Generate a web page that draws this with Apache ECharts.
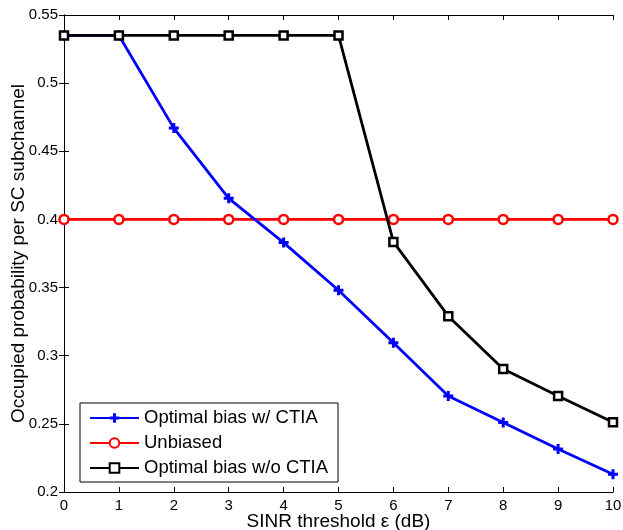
<!DOCTYPE html>
<html><head><meta charset="utf-8">
<script src="https://cdn.jsdelivr.net/npm/echarts@6/dist/echarts.min.js"></script>
<style>html,body{margin:0;padding:0;background:#fff}#c{width:623px;height:530px}</style>
</head><body><div id="c"></div>
<script>
const xValues = [0,1,2,3,4,5,6,7,8,9,10];
const withCTIA = [0.535,0.535,0.467,0.4155,0.383,0.348,0.3095,0.2705,0.251,0.2315,0.213];
const unbiased = [0.4,0.4,0.4,0.4,0.4,0.4,0.4,0.4,0.4,0.4,0.4];
const withoutCTIA = [0.535,0.535,0.535,0.535,0.535,0.535,0.3835,0.329,0.2902,0.2705,0.2512];
const seriesNames = ['Optimal bias w/ CTIA','Unbiased','Optimal bias w/o CTIA'];
const xTicks = ['0','1','2','3','4','5','6','7','8','9','10'];
const yTicks = ['0.2','0.25','0.3','0.35','0.4','0.45','0.5','0.55'];

const plus = 'path://M3.5,0 L6.5,0 L6.5,3.5 L10,3.5 L10,6.5 L6.5,6.5 L6.5,10 L3.5,10 L3.5,6.5 L0,6.5 L0,3.5 L3.5,3.5 Z';
const font = 'Liberation Sans, Arial, Helvetica, sans-serif';
const chart = echarts.init(document.getElementById('c'), null, {renderer:'canvas'});
const pair = (arr) => arr.map((v,i)=>[xValues[i], v]);
const axisLine = {show:true, lineStyle:{color:'#000', width:1}};
chart.setOption({
  animation:false,
  backgroundColor:'#fff',
  grid:{left:64, right:10, top:15, bottom:38, containLabel:false, outerBoundsMode:'none'},
  xAxis:[{
    type:'value', min:0, max:10, interval:1,
    axisLine:axisLine, axisTick:{inside:true, length:5, lineStyle:{color:'#000'}},
    splitLine:{show:false},
    axisLabel:{color:'#000', fontSize:15, fontFamily:font, margin:6, formatter:(v)=>xTicks[v]},
    name:'SINR threshold ε (dB)', nameLocation:'middle', nameGap:20, nameMoveOverlap:false,
    nameTextStyle:{color:'#000', fontSize:19, fontFamily:font}
  },{
    type:'value', min:0, max:10, interval:1, position:'top',
    axisLine:axisLine, axisTick:{inside:true, length:5, lineStyle:{color:'#000'}},
    axisLabel:{show:false}, splitLine:{show:false}
  }],
  yAxis:[{
    type:'value', min:0.2, max:0.55, interval:0.05,
    axisLine:axisLine, axisTick:{inside:true, length:5, lineStyle:{color:'#000'}},
    splitLine:{show:false},
    axisLabel:{color:'#000', fontSize:15, fontFamily:font, margin:6,
      formatter:(v)=>yTicks[Math.round((v-0.2)/0.05)]},
    name:'Occupied probability per SC subchannel', nameLocation:'middle', nameGap:36, nameMoveOverlap:false,
    nameTextStyle:{color:'#000', fontSize:19, fontFamily:font}
  },{
    type:'value', min:0.2, max:0.55, interval:0.05, position:'right',
    axisLine:axisLine, axisTick:{inside:true, length:5, lineStyle:{color:'#000'}},
    axisLabel:{show:false}, splitLine:{show:false}
  }],
  legend:{
    left:80, top:403, orient:'vertical',
    padding:[5,10,4,9], itemGap:5, itemWidth:49, itemHeight:12,
    borderColor:'#000', borderWidth:1, backgroundColor:'#fff',
    textStyle:{color:'#000', fontSize:18.5, fontFamily:font, lineHeight:20},
    data:seriesNames
  },
  series:[
    {name:seriesNames[0], type:'line', data:pair(withCTIA), color:'#0000ff',
     lineStyle:{width:2.8, color:'#0000ff'}, symbol:plus, symbolSize:10,
     itemStyle:{color:'#0000ff', borderWidth:0}, z:3},
    {name:seriesNames[1], type:'line', data:pair(unbiased), color:'#ff0000',
     lineStyle:{width:2.8, color:'#ff0000'}, symbol:'circle', symbolSize:9,
     itemStyle:{color:'#fff', borderColor:'#ff0000', borderWidth:2.5}, z:2},
    {name:seriesNames[2], type:'line', data:pair(withoutCTIA), color:'#000',
     lineStyle:{width:2.8, color:'#000'}, symbol:'rect', symbolSize:8,
     itemStyle:{color:'#fff', borderColor:'#000', borderWidth:2.5}, z:4}
  ]
});
</script></body></html>
